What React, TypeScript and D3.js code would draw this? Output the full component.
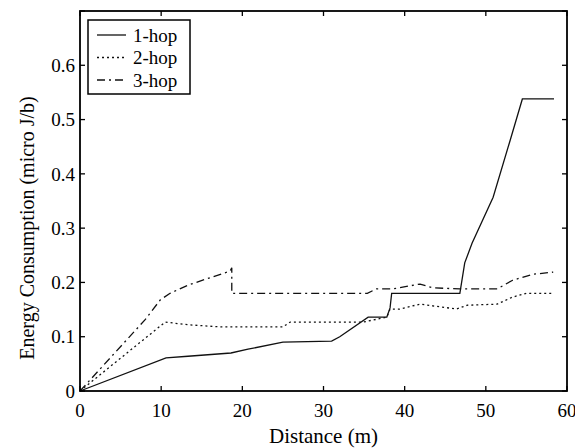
import * as d3 from "d3";

const W = 575;
const H = 448;
const margin = { top: 11, right: 8, bottom: 57, left: 80 };

// distances (m) and energy (micro J/b)
const hop1Dist = [0, 10.6, 13.3, 18.6, 20.7, 25.0, 31.0, 32.0, 35.5, 37.8, 38.2, 38.4, 39.0, 46.8, 47.4, 48.3, 50.9, 53.0, 54.5, 58.4];
const hop1Energy = [0, 0.061, 0.064, 0.07, 0.077, 0.09, 0.092, 0.1, 0.136, 0.136, 0.153, 0.18, 0.18, 0.18, 0.236, 0.272, 0.357, 0.462, 0.538, 0.538];

const hop2Dist = [0, 10.5, 13.3, 17.4, 25.0, 25.9, 34.9, 37.8, 38.2, 39.4, 41.9, 46.4, 47.7, 51.4, 53.3, 55.0, 58.3];
const hop2Energy = [0, 0.127, 0.122, 0.118, 0.118, 0.127, 0.127, 0.136, 0.151, 0.151, 0.16, 0.151, 0.158, 0.16, 0.173, 0.18, 0.18];

const hop3Dist = [0, 8.0, 9.9, 11.1, 13.3, 18.5, 18.7, 18.7, 35.4, 36.5, 38.5, 41.9, 43.5, 46.8, 51.4, 53.3, 55.8, 58.3];
const hop3Energy = [0, 0.131, 0.168, 0.18, 0.195, 0.221, 0.227, 0.18, 0.18, 0.188, 0.188, 0.197, 0.19, 0.188, 0.188, 0.204, 0.215, 0.219];

const xTicks = [0, 10, 20, 30, 40, 50, 60];
const yTicks = [0, 0.1, 0.2, 0.3, 0.4, 0.5, 0.6, 0.7];
const yTickLabels = ["0", "0.1", "0.2", "0.3", "0.4", "0.5", "0.6", ""];

const seriesNames = ["1-hop", "2-hop", "3-hop"];
const dashes = ["none", "2,3", "8,4,2,4"];

const FONT = "'Liberation Serif', 'DejaVu Serif', serif";

export default function App() {
  const x = d3.scaleLinear().domain([0, 60]).range([margin.left, W - margin.right]);
  const y = d3.scaleLinear().domain([0, 0.7]).range([H - margin.bottom, margin.top]);

  const line = d3
    .line<[number, number]>()
    .x((d) => x(d[0]))
    .y((d) => y(d[1]));

  const series = [
    d3.zip(hop1Dist, hop1Energy) as [number, number][],
    d3.zip(hop2Dist, hop2Energy) as [number, number][],
    d3.zip(hop3Dist, hop3Energy) as [number, number][],
  ];

  const x0 = x.range()[0];
  const x1 = x.range()[1];
  const y0 = y.range()[0];
  const y1 = y.range()[1];
  const tick = 5;

  return (
    <svg
      width={W}
      height={H}
      style={{ position: "absolute", left: 0, top: 0, background: "#fff" }}
      fontFamily={FONT}
    >
      {/* data lines */}
      {series.map((s, i) => (
        <path
          key={seriesNames[i]}
          d={line(s) ?? ""}
          fill="none"
          stroke="#111"
          strokeWidth={1.3}
          strokeDasharray={dashes[i]}
        />
      ))}

      {/* box */}
      <rect x={x0} y={y1} width={x1 - x0} height={y0 - y1} fill="none" stroke="#000" strokeWidth={1.8} />

      {/* x ticks, bottom and top, inward */}
      {xTicks.map((t) => (
        <g key={"x" + t}>
          <line x1={x(t)} x2={x(t)} y1={y0} y2={y0 - tick} stroke="#000" strokeWidth={1.3} />
          <line x1={x(t)} x2={x(t)} y1={y1} y2={y1 + tick} stroke="#000" strokeWidth={1.3} />
          <text x={x(t)} y={y0 + 26} textAnchor="middle" fontSize={19}>
            {t}
          </text>
        </g>
      ))}

      {/* y ticks, left and right, inward */}
      {yTicks.map((t, i) => (
        <g key={"y" + t}>
          <line x1={x0} x2={x0 + tick} y1={y(t)} y2={y(t)} stroke="#000" strokeWidth={1.3} />
          <line x1={x1} x2={x1 - tick} y1={y(t)} y2={y(t)} stroke="#000" strokeWidth={1.3} />
          <text x={x0 - 5} y={y(t)} dy="0.35em" textAnchor="end" fontSize={19}>
            {yTickLabels[i]}
          </text>
        </g>
      ))}

      {/* axis titles */}
      <text x={(x0 + x1) / 2} y={443} textAnchor="middle" fontSize={21}>
        Distance (m)
      </text>
      <text
        transform={`translate(34,${(y0 + y1) / 2 + 27}) rotate(-90)`}
        textAnchor="middle"
        fontSize={20}
      >
        Energy Consumption (micro J/b)
      </text>

      {/* legend */}
      <g transform="translate(88,20)">
        <rect width={102} height={74} fill="#fff" stroke="#000" strokeWidth={1.5} />
        {seriesNames.map((name, i) => (
          <g key={name} transform={`translate(0,${15 + i * 22.5})`}>
            <line x1={9} x2={38} y1={0} y2={0} stroke="#111" strokeWidth={1.3} strokeDasharray={dashes[i]} />
            <text x={45} y={0} dy="0.35em" fontSize={19}>
              {name}
            </text>
          </g>
        ))}
      </g>
    </svg>
  );
}
